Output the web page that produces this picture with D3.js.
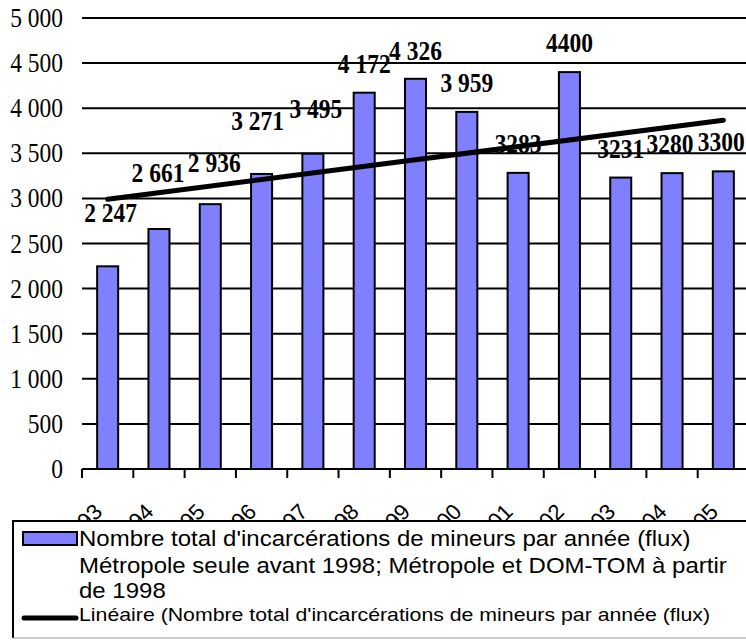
<!DOCTYPE html>
<html>
<head>
<meta charset="utf-8">
<script src="https://cdn.jsdelivr.net/npm/d3@7"></script>
<style>
  body { margin: 0; background: #fff; }
  svg { display: block; }
</style>
</head>
<body>
<div id="chart"></div>
<script>
// data
var years = ["1993","1994","1995","1996","1997","1998","1999","2000","2001","2002","2003","2004","2005"]
var counts = [2247, 2661, 2936, 3271, 3495, 4172, 4326, 3959, 3283, 4400, 3231, 3280, 3300]
var countLabels = ["2 247","2 661","2 936","3 271","3 495","4 172","4 326","3 959","3283","4400","3231","3280","3300"]
var yTicks = [0, 500, 1000, 1500, 2000, 2500, 3000, 3500, 4000, 4500, 5000]
// end points of the linear trend line
var trend = [{year: "1993", value: 2990}, {year: "2005", value: 3867}]
var legendBarText = ["Nombre total d'incarcérations de mineurs par année (flux)",
  "Métropole seule avant 1998; Métropole et DOM-TOM à partir",
  "de 1998"]
var legendLineText = "Linéaire (Nombre total d'incarcérations de mineurs par année (flux)"

// hand moved data labels (pixels, dx / dy)
var labelNudge = [[3,-24],[-1,-27],[4,-12],[-4,-24],[3,-16],[0,0],[0,1],[0,0],[0,0],[0,0],[0,0],[-2,0],[-2,0]]

var SERIF = "'Liberation Serif', 'Times New Roman', serif"
var SANS = "'Liberation Sans', Arial, sans-serif"

var svg = d3.select('#chart').append('svg')
  .attr('width', 746)
  .attr('height', 641)

var margin = {top: 18, left: 82, bottom: 469, right: 749}

var y = d3.scaleLinear()
  .domain([0, 5000])
  .range([margin.bottom, margin.top])

var x = d3.scaleBand()
  .domain(years)
  .range([margin.left, margin.right])
  .paddingInner(0.59)
  .paddingOuter(0.295)

var fmt = function(v) { return d3.format(",")(v).replace(/,/g, " ") }

// gridlines
svg.append("g").selectAll("line")
  .data(yTicks)
  .join("line")
  .attr("x1", margin.left)
  .attr("x2", margin.right)
  .attr("y1", d => y(d))
  .attr("y2", d => y(d))
  .attr("stroke", "#000")
  .attr("stroke-width", 2)

// y labels
svg.append("g").selectAll("text")
  .data(yTicks)
  .join("text")
  .attr("transform", d => `translate(63,${y(d) + 9}) scale(1,1.12)`)
  .attr("text-anchor", "end")
  .style("font-family", SERIF)
  .style("font-size", "23.5px")
  .attr("fill", "#000")
  .text(d => fmt(d))

// x ticks at band edges
var step = x.step()
var edges = years.map(d => x(d) - (step - x.bandwidth()) / 2).concat([margin.right])
svg.append("g").selectAll("line")
  .data(edges)
  .join("line")
  .attr("x1", d => d)
  .attr("x2", d => d)
  .attr("y1", y(0))
  .attr("y2", y(0) + 9)
  .attr("stroke", "#000")
  .attr("stroke-width", 2)

// x labels (mostly hidden by the legend)
svg.append("g").selectAll("text")
  .data(years)
  .join("text")
  .attr("transform", d => `translate(${x(d) + x.bandwidth() / 2 - 4},513) rotate(-45)`)
  .attr("text-anchor", "end")
  .style("font-family", SANS)
  .style("font-size", "22px")
  .text(d => d)

// bars
svg.append("g").selectAll("rect")
  .data(counts)
  .join("rect")
  .attr("x", (d, i) => x(years[i]))
  .attr("y", d => y(d))
  .attr("width", x.bandwidth())
  .attr("height", d => y(0) - y(d))
  .attr("fill", "#8080ff")
  .attr("stroke", "#000")
  .attr("stroke-width", 2)

// value labels
svg.append("g").selectAll("text")
  .data(counts)
  .join("text")
  .attr("transform", (d, i) => `translate(${x(years[i]) + x.bandwidth() / 2 + labelNudge[i][0]},${y(d) - 20 + labelNudge[i][1]}) scale(1,1.12)`)
  .attr("text-anchor", "middle")
  .style("font-family", SERIF)
  .style("font-weight", "bold")
  .style("font-size", "23.5px")
  .text((d, i) => countLabels[i])

// trend line
var lineFunction = d3.line()
  .x(d => x(d.year) + x.bandwidth() / 2)
  .y(d => y(d.value))

svg.append("path")
  .attr("d", lineFunction(trend))
  .attr("stroke", "#000")
  .attr("stroke-width", 5)
  .attr("stroke-linecap", "round")
  .attr("fill", "none")

// legend
var lg = svg.append("g")
lg.append("rect")
  .attr("x", 13).attr("y", 521)
  .attr("width", 760).attr("height", 117)
  .attr("fill", "#fff")
lg.append("path")
  .attr("d", "M13,638V521H760")
  .attr("stroke", "#000")
  .attr("stroke-width", 2)
  .attr("fill", "none")
lg.append("line")
  .attr("x1", 13).attr("x2", 760)
  .attr("y1", 638).attr("y2", 638)
  .attr("stroke", "#999")
  .attr("stroke-width", 1)

lg.append("rect")
  .attr("x", 23).attr("y", 532)
  .attr("width", 54).attr("height", 13)
  .attr("fill", "#8080ff")
  .attr("stroke", "#000")
  .attr("stroke-width", 2)

var legendY = [546, 573, 598]
lg.selectAll("text.bar")
  .data(legendBarText)
  .join("text")
  .attr("class", "bar")
  .attr("transform", (d, i) => `translate(79,${legendY[i]}) scale(1,0.9)`)
  .style("font-family", SANS)
  .style("font-size", "24px")
  .text(d => d)

lg.append("line")
  .attr("x1", 24).attr("x2", 76)
  .attr("y1", 618).attr("y2", 618)
  .attr("stroke", "#000")
  .attr("stroke-width", 5)
  .attr("stroke-linecap", "round")

lg.append("text")
  .attr("transform", "translate(79,621) scale(1,0.88)")
  .style("font-family", SANS)
  .style("font-size", "21.3px")
  .text(legendLineText)
</script>
</body>
</html>
